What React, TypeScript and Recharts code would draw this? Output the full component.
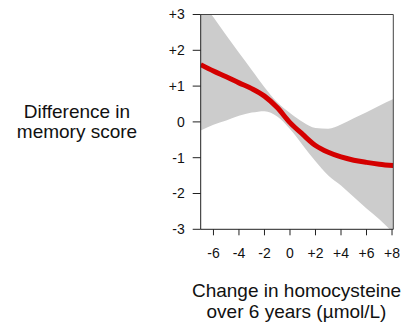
import { ComposedChart, Area, Line, XAxis, YAxis, ReferenceLine, Label } from "recharts";

// change in homocysteine (µmol/L)
const xs = [-7, -6, -5, -4, -3, -2, -1, 0, 1, 2, 3, 4, 5, 6, 7, 8.1];
// fitted difference in memory score
const fit = [1.6, 1.42, 1.26, 1.09, 0.93, 0.72, 0.4, -0.02, -0.35, -0.66, -0.85, -0.98, -1.07, -1.13, -1.18, -1.22];
// confidence band
const upper = [3.42, 2.92, 2.42, 1.93, 1.45, 0.97, 0.55, 0.25, 0.0, -0.17, -0.19, -0.07, 0.1, 0.27, 0.45, 0.64];
const lower = [-0.24, -0.08, 0.04, 0.17, 0.26, 0.3, 0.15, -0.2, -0.65, -1.1, -1.5, -1.78, -2.1, -2.42, -2.72, -3.1];

const xTicks = [-6, -4, -2, 0, 2, 4, 6, 8];
const yTicks = [-3, -2, -1, 0, 1, 2, 3];

const data = xs.map((x, i) => ({ x, fit: fit[i], band: [lower[i], upper[i]] }));

const signed = (v: number) => (v > 0 ? `+${v}` : `${v}`);

const font = "Arial, 'Liberation Sans', Helvetica, sans-serif";

export default function App() {
  return (
    <div style={{ position: "absolute", left: 0, top: 0, width: 406, height: 325, background: "#fff", fontFamily: font }}>
      <ComposedChart
        width={406}
        height={325}
        data={data}
        margin={{ top: 14.5, right: 12.7, left: 140.7, bottom: 55.7 }}
      >
        <XAxis
          dataKey="x"
          type="number"
          domain={[-7, 8.1]}
          ticks={xTicks}
          tickFormatter={signed}
          allowDataOverflow
          height={40}
          tickSize={6}
          tickMargin={13}
          stroke="#222"
          tick={{ fill: "#111", fontSize: 14, fontFamily: font }}
        >
          <Label
            content={() => (
              <text textAnchor="middle" fontSize={19} fill="#111" fontFamily={font}>
                <tspan x={296.5} y={296.7}>Change in homocysteine</tspan>
                <tspan x={296.5} y={318.3}>over 6 years (µmol/L)</tspan>
              </text>
            )}
          />
        </XAxis>
        <YAxis
          type="number"
          domain={[-3, 3]}
          ticks={yTicks}
          tickFormatter={signed}
          allowDataOverflow
          width={60}
          tickSize={8}
          tickMargin={8}
          stroke="#222"
          tick={{ fill: "#111", fontSize: 14, fontFamily: font }}
        >
          <Label
            content={() => (
              <text textAnchor="middle" fontSize={19} fill="#111" fontFamily={font}>
                <tspan x={77} y={117.5}>Difference in</tspan>
                <tspan x={77} y={138}>memory score</tspan>
              </text>
            )}
          />
        </YAxis>
        <Area
          dataKey="band"
          type="monotone"
          fill="#cccccc"
          fillOpacity={1}
          stroke="none"
          isAnimationActive={false}
        />
        <Line
          dataKey="fit"
          type="monotone"
          stroke="#d40000"
          strokeWidth={5}
          dot={false}
          isAnimationActive={false}
        />
        <ReferenceLine y={3} stroke="#444" strokeWidth={1} />
        <ReferenceLine x={8.1} stroke="#444" strokeWidth={1} />
      </ComposedChart>
    </div>
  );
}
